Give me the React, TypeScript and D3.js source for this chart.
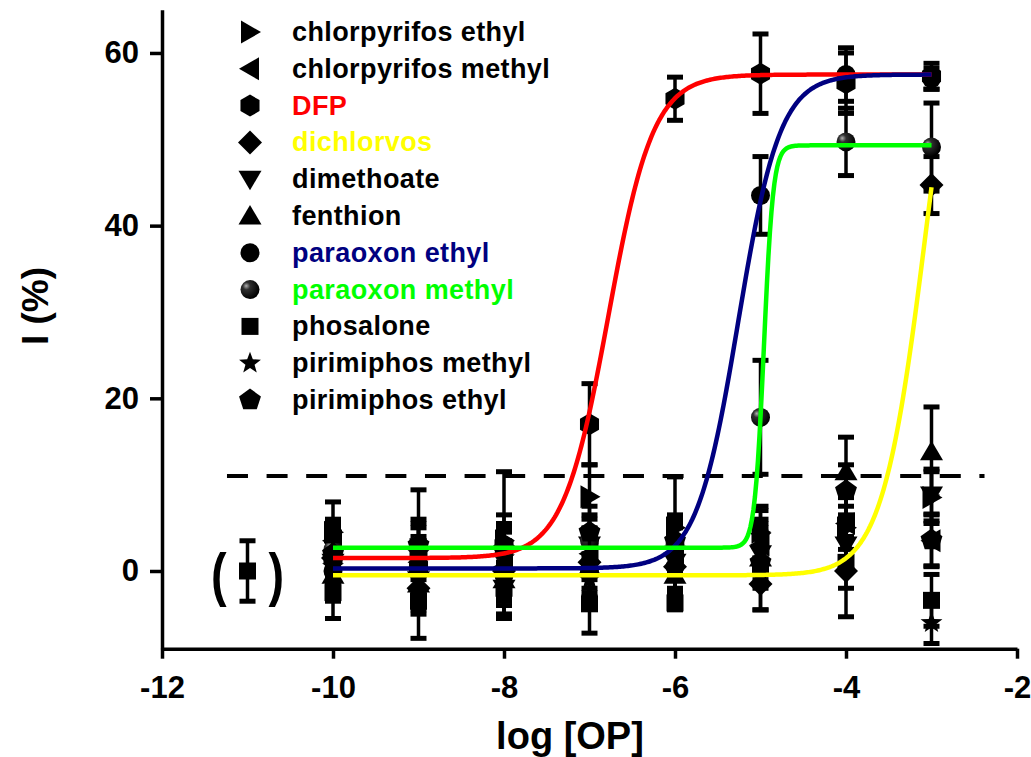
import React, { useEffect, useRef } from "react";
import * as d3 from "d3";

const W = 1031;
const H = 757;

// ---- data ----
const concentrations = [-10, -9, -8, -7, -6, -5, -4, -3];
const compounds = [
  "chlorpyrifos ethyl",
  "chlorpyrifos methyl",
  "DFP",
  "dichlorvos",
  "dimethoate",
  "fenthion",
  "paraoxon ethyl",
  "paraoxon methyl",
  "phosalone",
  "pirimiphos methyl",
  "pirimiphos ethyl",
];
const labelColors = ["#000000", "#000000", "#ff0000", "#ffff00", "#000000", "#000000", "#000080", "#00ff00", "#000000", "#000000", "#000000"];
const symbolKinds = ["triRight", "triLeft", "hexagon", "diamond", "triDown", "triUp", "circle", "sphere", "square", "star", "pentagon"];

const chlorpyrifosEthyl = [4.5, 2.5, 3.5, 8.6, 5.0, 4.5, 5.0, 8.5];
const chlorpyrifosEthylErr = [3.5, 3.0, 3.0, 3.7, 5.9, 3.0, 4.0, 3.0];
const chlorpyrifosMethyl = [3.5, 1.0, 0.5, 2.0, 2.0, 3.0, 5.5, 3.5];
const chlorpyrifosMethylErr = [2.5, 3.0, 3.0, 3.0, 3.0, 3.0, 3.0, 3.0];
const dfp = [1.5, 0.5, 3.0, 17.0, 54.7, 57.6, 56.5, 57.3];
const dfpErr = [3.0, 3.0, 8.5, 4.7, 2.5, 4.6, 3.5, 1.5];
const dichlorvos = [1.5, -2.0, 0.0, 1.0, 0.5, -1.5, 0.0, 44.7];
const dichlorvosErr = [3.0, 3.0, 3.0, 3.0, 3.0, 3.0, 5.3, 3.3];
const dimethoate = [1.0, -1.0, -2.0, 3.0, 1.0, 2.0, 3.0, 8.8];
const dimethoateErr = [3.0, 3.0, 3.0, 3.0, 3.0, 3.0, 3.0, 3.0];
const fenthion = [-0.5, -1.5, -1.0, 0.5, -0.5, 1.5, 11.5, 13.8];
const fenthionErr = [3.0, 3.0, 3.0, 3.0, 3.0, 3.0, 4.0, 5.2];
const paraoxonEthyl = [0.0, 0.5, -0.5, 0.0, 0.5, 43.5, 57.5, 57.0];
const paraoxonEthylErr = [3.0, 3.0, 3.0, 3.0, 3.0, 4.5, 3.1, 1.2];
const paraoxonMethyl = [2.5, 3.0, 2.0, 3.5, 3.0, 17.8, 49.7, 49.1];
const paraoxonMethylErr = [3.0, 6.4, 3.0, 3.0, 3.0, 6.6, 3.9, 5.1];
const phosalone = [-2.5, -3.5, -2.0, -3.8, -3.7, 0.5, 1.0, -3.4];
const phosaloneErr = [3.0, 4.3, 3.0, 3.4, 0.8, 5.0, 3.0, 3.0];
const pirimiphosMethyl = [0.5, 2.0, 1.5, -1.0, 2.5, 4.0, 3.5, -6.0];
const pirimiphosMethylErr = [3.0, 3.0, 3.0, 3.0, 3.0, 3.0, 3.0, 2.4];
const pirimiphosEthyl = [2.0, 3.0, 2.5, 4.5, 3.5, 1.0, 9.3, 3.6];
const pirimiphosEthylErr = [3.0, 3.0, 3.0, 3.0, 3.0, 3.0, 3.0, 3.0];

const seriesValues = [chlorpyrifosEthyl, chlorpyrifosMethyl, dfp, dichlorvos, dimethoate, fenthion, paraoxonEthyl, paraoxonMethyl, phosalone, pirimiphosMethyl, pirimiphosEthyl];
const seriesErrors = [chlorpyrifosEthylErr, chlorpyrifosMethylErr, dfpErr, dichlorvosErr, dimethoateErr, fenthionErr, paraoxonEthylErr, paraoxonMethylErr, phosaloneErr, pirimiphosMethylErr, pirimiphosEthylErr];

// control point shown in parentheses
const controlX = [-11];
const controlY = [0];
const controlErr = [3.5];

// fitted dose-response curves (4-parameter logistic)
const fitCompounds = ["DFP", "paraoxon ethyl", "paraoxon methyl", "dichlorvos"];
const fitColors = ["#ff0000", "#000080", "#00ff00", "#ffff00"];
const fitBottom = [1.5, 0.3, 2.7, -0.5];
const fitTop = [57.5, 57.5, 49.3, 80];
const fitLogEC50 = [-6.78, -5.26, -4.96, -3.06];
const fitHill = [1.65, 1.78, 8.0, 1.7];
const fitRange = [-10, -3];

const threshold = 11;
const thresholdRange = [-11.24, -2.38];

const xTicks = [-12, -10, -8, -6, -4, -2];
const yTicks = [0, 20, 40, 60];

const FONT = "'Liberation Sans', Arial, Helvetica, sans-serif";

function poly(pts: number[][]): string {
  return "M" + pts.map((p) => p[0].toFixed(2) + "," + p[1].toFixed(2)).join("L") + "Z";
}
function regular(n: number, r: number): number[][] {
  return d3.range(n).map((i) => {
    const a = (i * 2 * Math.PI) / n;
    return [r * Math.sin(a), -r * Math.cos(a)];
  });
}
function symbolPath(kind: string): string {
  switch (kind) {
    case "triRight":
      return poly([[-9, -11.5], [11, 0], [-9, 11.5]]);
    case "triLeft":
      return poly([[9, -11.5], [-11, 0], [9, 11.5]]);
    case "triUp":
      return poly([[0, -11], [11.5, 8.5], [-11.5, 8.5]]);
    case "triDown":
      return poly([[0, 11], [11.5, -8.5], [-11.5, -8.5]]);
    case "diamond":
      return poly([[0, -12], [12, 0], [0, 12], [-12, 0]]);
    case "square":
      return poly([[-8.5, -8.5], [8.5, -8.5], [8.5, 8.5], [-8.5, 8.5]]);
    case "hexagon":
      return poly(regular(6, 11));
    case "pentagon":
      return poly(regular(5, 11.5));
    case "star": {
      const pts = d3.range(10).map((i) => {
        const r = i % 2 === 0 ? 11.5 : 4.8;
        const a = (i * Math.PI) / 5;
        return [r * Math.sin(a), -r * Math.cos(a)];
      });
      return poly(pts);
    }
    default: {
      const r = 9.5;
      return `M${-r},0A${r},${r} 0 1,0 ${r},0A${r},${r} 0 1,0 ${-r},0Z`;
    }
  }
}

export default function App() {
  const ref = useRef<SVGSVGElement | null>(null);

  useEffect(() => {
    const svg = d3.select(ref.current);
    svg.selectAll("*").remove();

    const x = d3.scaleLinear().domain([-12, -2]).range([162, 1017]);
    const y = d3.scaleLinear().domain([-9, 65]).range([648.7, 9.8]);

    const defs = svg.append("defs");
    const grad = defs
      .append("radialGradient")
      .attr("id", "sphere")
      .attr("cx", "0.35")
      .attr("cy", "0.35")
      .attr("r", "0.65")
      .attr("fx", "0.3")
      .attr("fy", "0.3");
    grad.append("stop").attr("offset", "0").attr("stop-color", "#b0b0b0");
    grad.append("stop").attr("offset", "0.3").attr("stop-color", "#303030");
    grad.append("stop").attr("offset", "1").attr("stop-color", "#000000");

    svg.append("rect").attr("width", W).attr("height", H).attr("fill", "#ffffff");

    // axes
    const yAxis = svg
      .append("g")
      .attr("transform", `translate(${x(-12)},0)`)
      .call(d3.axisLeft(y).tickValues(yTicks).tickSize(12).tickSizeOuter(0).tickPadding(11).tickFormat(d3.format("d")));
    const xAxis = svg
      .append("g")
      .attr("transform", `translate(0,${y(-9)})`)
      .call(d3.axisBottom(x).tickValues(xTicks).tickSize(10).tickSizeOuter(0).tickPadding(17).tickFormat(d3.format("d")));
    [yAxis, xAxis].forEach((g) => {
      g.select(".domain").attr("stroke", "#000").attr("stroke-width", 3.5);
      g.selectAll(".tick line").attr("stroke", "#000").attr("stroke-width", 3.5);
      g.selectAll(".tick text")
        .attr("fill", "#000")
        .style("font-family", FONT)
        .style("font-weight", "bold")
        .style("font-size", "31px");
    });
    xAxis.selectAll(".tick text").text((d: any) => String(d).replace("−", "-"));
    yAxis.selectAll(".tick text").text((d: any) => String(d));

    // axis titles
    svg
      .append("text")
      .attr("x", 570)
      .attr("y", 749)
      .attr("text-anchor", "middle")
      .style("font-family", FONT)
      .style("font-weight", "bold")
      .style("font-size", "38px")
      .text("log [OP]");
    svg
      .append("text")
      .attr("transform", `translate(48,306) rotate(-90)`)
      .attr("text-anchor", "middle")
      .style("font-family", FONT)
      .style("font-weight", "bold")
      .style("font-size", "37px")
      .text("I (%)");

    // threshold dashed line
    svg
      .append("line")
      .attr("x1", x(thresholdRange[0]))
      .attr("x2", x(thresholdRange[1]))
      .attr("y1", y(threshold))
      .attr("y2", y(threshold))
      .attr("stroke", "#000")
      .attr("stroke-width", 4)
      .attr("stroke-dasharray", "21 18.6");

    const drawErr = (g: any, cx: number, v: number, e: number) => {
      const y1 = y(v - e);
      const y2 = y(v + e);
      g.append("line").attr("x1", cx).attr("x2", cx).attr("y1", y1).attr("y2", y2).attr("stroke", "#000").attr("stroke-width", 3.5);
      [y1, y2].forEach((yy) =>
        g.append("line").attr("x1", cx - 8).attr("x2", cx + 8).attr("y1", yy).attr("y2", yy).attr("stroke", "#000").attr("stroke-width", 5)
      );
    };
    const drawSym = (g: any, kind: string, cx: number, cy: number) => {
      g.append("path")
        .attr("d", symbolPath(kind))
        .attr("transform", `translate(${cx},${cy})`)
        .attr("fill", kind === "sphere" ? "url(#sphere)" : "#000");
    };

    // data points with error bars
    const pts = svg.append("g");
    compounds.forEach((name, si) => {
      const g = pts.append("g").attr("class", "series");
      concentrations.forEach((c, i) => {
        drawErr(g, x(c), seriesValues[si][i], seriesErrors[si][i]);
      });
      concentrations.forEach((c, i) => {
        drawSym(g, symbolKinds[si], x(c), y(seriesValues[si][i]));
      });
    });

    // control point in parentheses
    controlX.forEach((cx, i) => {
      const g = svg.append("g");
      drawErr(g, x(cx), controlY[i], controlErr[i]);
      drawSym(g, "square", x(cx), y(controlY[i]));
      [
        { t: "(", dx: -21, anchor: "end" },
        { t: ")", dx: 21, anchor: "start" },
      ].forEach((p) =>
        g
          .append("text")
          .attr("transform", `translate(${x(cx) + p.dx},595) scale(0.85,1.08)`)
          .attr("text-anchor", p.anchor)
          .style("font-family", FONT)
          .style("font-weight", "bold")
          .style("font-size", "55px")
          .text(p.t)
      );
    });

    // fitted curves
    const xs = d3.range(0, 401).map((i) => fitRange[0] + ((fitRange[1] - fitRange[0]) * i) / 400);
    const line = d3
      .line<number[]>()
      .x((d) => x(d[0]))
      .y((d) => y(d[1]));
    fitCompounds.forEach((name, k) => {
      const data = xs.map((lx) => [
        lx,
        fitBottom[k] + (fitTop[k] - fitBottom[k]) / (1 + Math.pow(10, (fitLogEC50[k] - lx) * fitHill[k])),
      ]);
      svg
        .append("path")
        .attr("d", line(data))
        .attr("fill", "none")
        .attr("stroke", fitColors[k])
        .attr("stroke-width", 4.5)
        .attr("stroke-linejoin", "round");
    });

    // legend
    const lg = svg.append("g");
    compounds.forEach((name, i) => {
      const cy = 32 + i * 36.8;
      drawSym(lg, symbolKinds[i], 250, cy);
      lg.append("text")
        .attr("x", 292)
        .attr("y", cy + 9)
        .attr("fill", labelColors[i])
        .style("font-family", FONT)
        .style("font-weight", "bold")
        .style("font-size", "27px")
        .style("letter-spacing", "0.4px")
        .text(name);
    });
  }, []);

  return (
    <svg
      ref={ref}
      width={W}
      height={H}
      viewBox={`0 0 ${W} ${H}`}
      style={{ position: "absolute", left: 0, top: 0, background: "#fff" }}
    />
  );
}
